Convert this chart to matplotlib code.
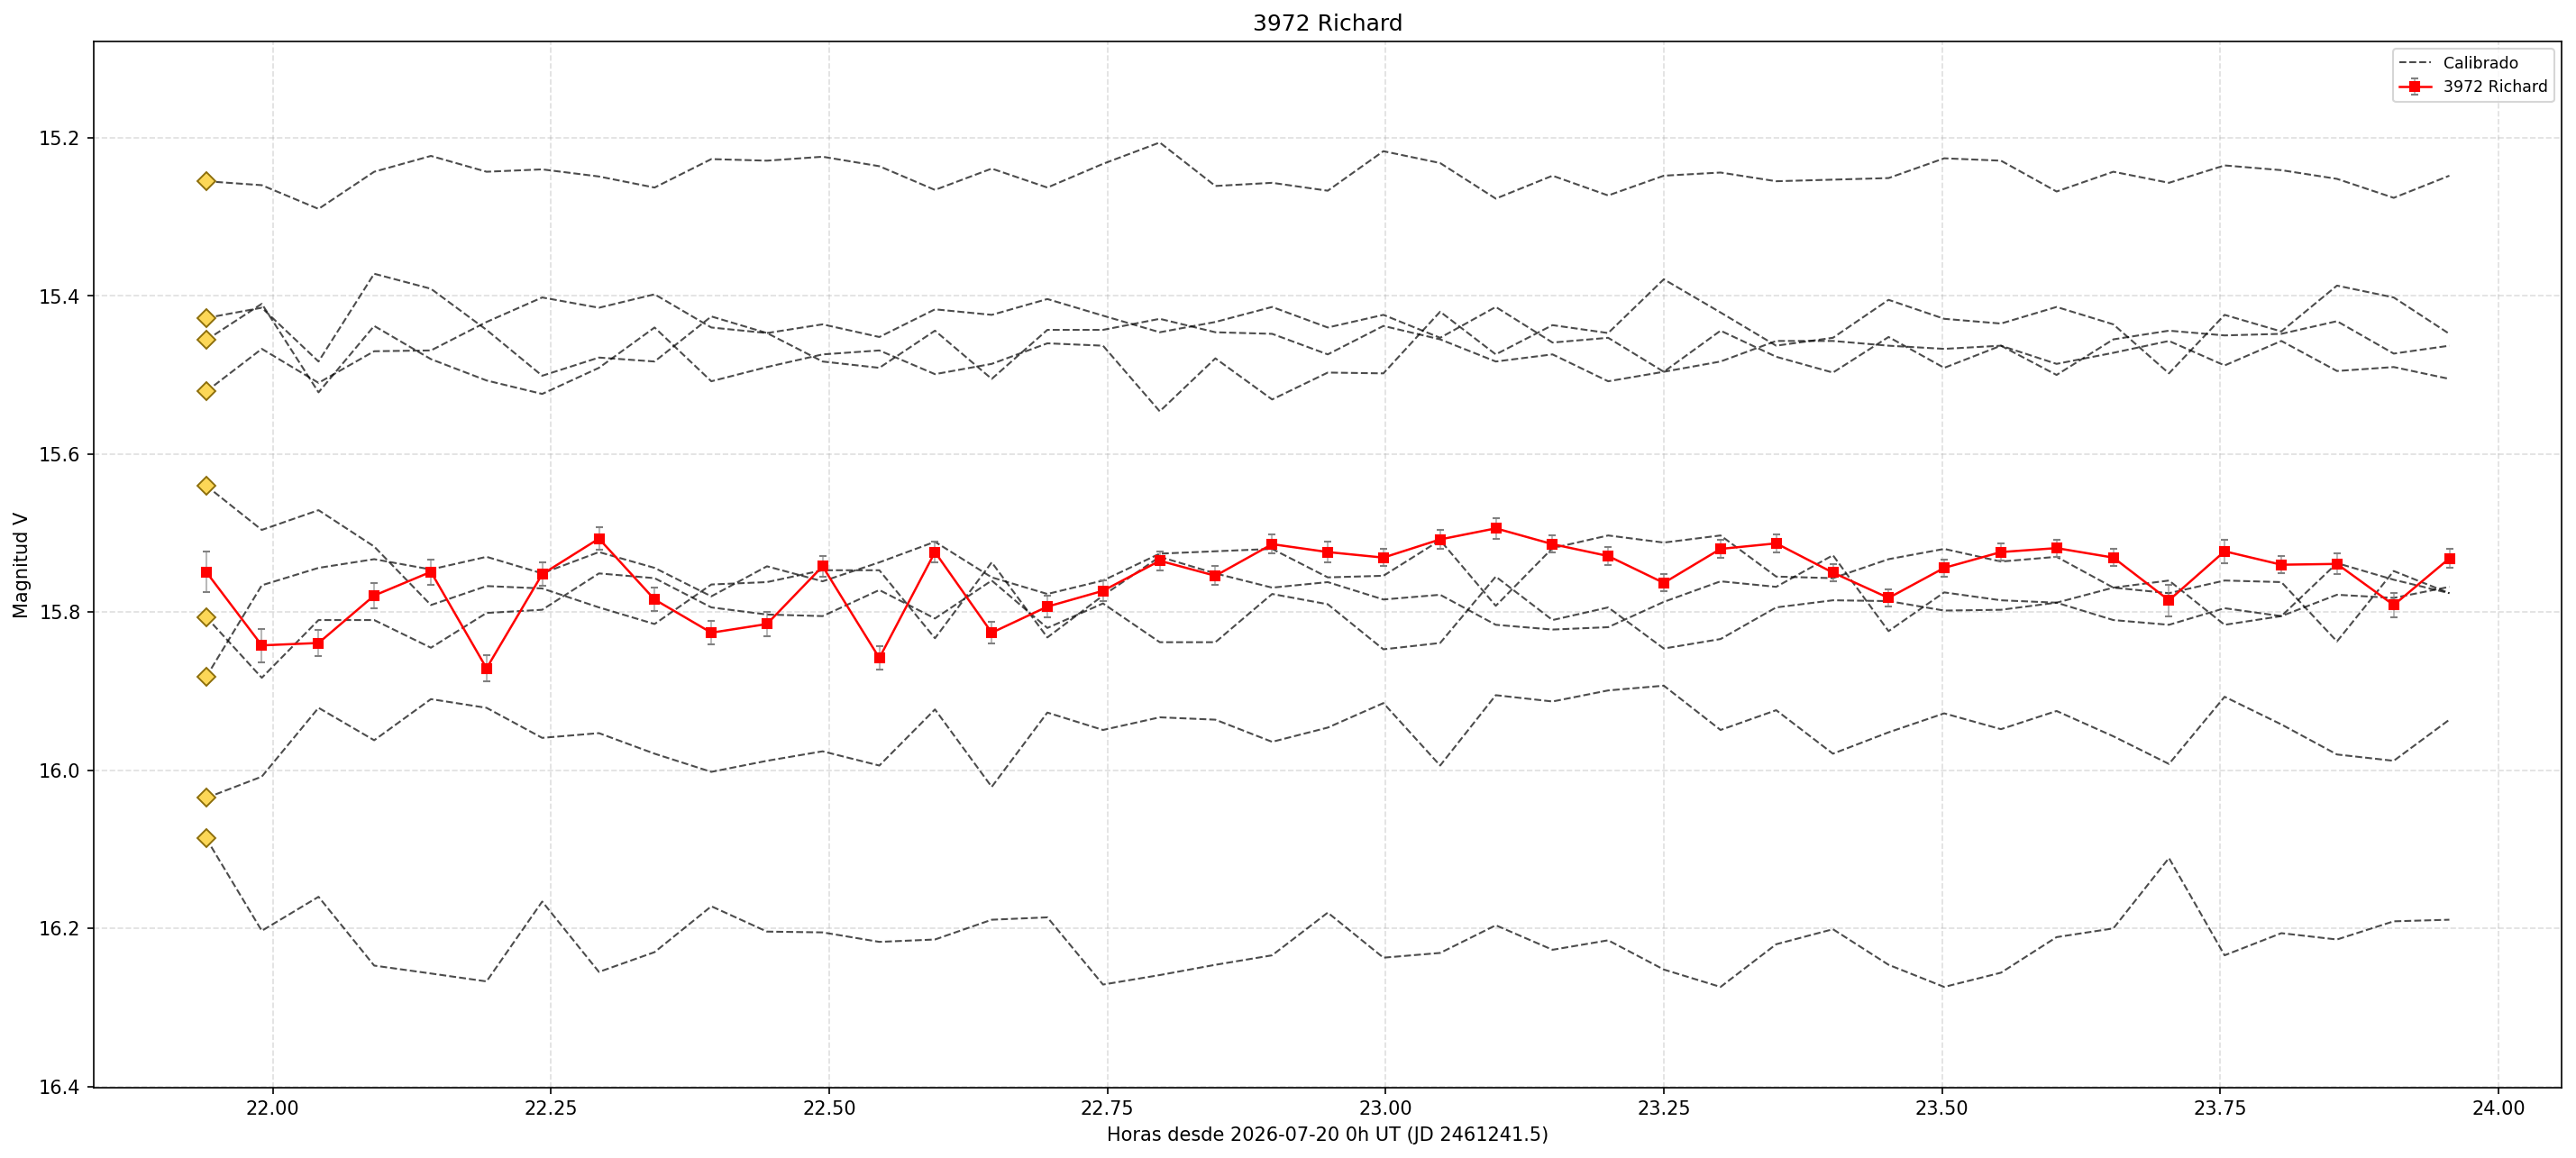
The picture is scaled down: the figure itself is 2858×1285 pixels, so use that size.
import matplotlib
matplotlib.use("agg")
import matplotlib.pyplot as plt

# hours since 2026-07-20 0h UT
hours = [21.940, 21.990, 22.041, 22.091, 22.142, 22.192, 22.242, 22.293, 22.343,
         22.394, 22.444, 22.494, 22.545, 22.595, 22.646, 22.696, 22.746, 22.797,
         22.847, 22.898, 22.948, 22.998, 23.049, 23.099, 23.150, 23.200, 23.250,
         23.301, 23.351, 23.402, 23.452, 23.502, 23.553, 23.603, 23.654, 23.704,
         23.754, 23.805, 23.855, 23.906, 23.956]

# target asteroid
richard_mag = [15.749, 15.842, 15.839, 15.779, 15.749, 15.871, 15.752, 15.707, 15.784,
               15.826, 15.815, 15.742, 15.858, 15.724, 15.826, 15.793, 15.773, 15.735,
               15.754, 15.714, 15.724, 15.731, 15.708, 15.694, 15.714, 15.729, 15.763,
               15.720, 15.713, 15.750, 15.782, 15.744, 15.724, 15.719, 15.731, 15.785,
               15.723, 15.740, 15.739, 15.791, 15.732]
richard_err = [0.026, 0.021, 0.017, 0.016, 0.016, 0.017, 0.015, 0.014, 0.015, 0.015,
               0.015, 0.013, 0.015, 0.013, 0.014, 0.014, 0.013, 0.012, 0.012, 0.012,
               0.013, 0.011, 0.012, 0.013, 0.011, 0.011, 0.011, 0.011, 0.011, 0.011,
               0.011, 0.011, 0.011, 0.011, 0.011, 0.020, 0.015, 0.011, 0.013, 0.015,
               0.012]

# calibrated comparison stars
comp_a = [15.255, 15.260, 15.290, 15.243, 15.223, 15.243, 15.240, 15.249, 15.263,
          15.227, 15.229, 15.224, 15.236, 15.266, 15.239, 15.263, 15.233, 15.206,
          15.261, 15.257, 15.267, 15.217, 15.232, 15.277, 15.248, 15.273, 15.248,
          15.244, 15.255, 15.253, 15.251, 15.226, 15.229, 15.268, 15.243, 15.257,
          15.235, 15.241, 15.252, 15.276, 15.248]
comp_b = [15.428, 15.415, 15.483, 15.372, 15.391, 15.443, 15.501, 15.478, 15.483,
          15.426, 15.447, 15.483, 15.491, 15.444, 15.505, 15.443, 15.443, 15.429,
          15.446, 15.448, 15.474, 15.438, 15.455, 15.483, 15.474, 15.508, 15.496,
          15.483, 15.457, 15.457, 15.463, 15.467, 15.463, 15.486, 15.472, 15.457,
          15.488, 15.457, 15.495, 15.490, 15.505]
comp_c = [15.456, 15.410, 15.522, 15.438, 15.480, 15.507, 15.524, 15.491, 15.440,
          15.508, 15.490, 15.474, 15.469, 15.499, 15.486, 15.460, 15.463, 15.546,
          15.479, 15.531, 15.497, 15.498, 15.420, 15.474, 15.437, 15.447, 15.379,
          15.421, 15.463, 15.453, 15.405, 15.429, 15.435, 15.414, 15.436, 15.498,
          15.424, 15.445, 15.387, 15.402, 15.448]
comp_d = [15.521, 15.467, 15.510, 15.470, 15.469, 15.433, 15.402, 15.415, 15.398,
          15.440, 15.447, 15.436, 15.452, 15.417, 15.424, 15.404, 15.425, 15.446,
          15.433, 15.414, 15.440, 15.424, 15.453, 15.414, 15.459, 15.453, 15.496,
          15.444, 15.477, 15.497, 15.452, 15.491, 15.463, 15.500, 15.455, 15.444,
          15.450, 15.448, 15.432, 15.473, 15.463]
comp_e = [15.640, 15.696, 15.671, 15.717, 15.791, 15.767, 15.770, 15.794, 15.815,
          15.765, 15.762, 15.747, 15.747, 15.833, 15.737, 15.832, 15.779, 15.730,
          15.751, 15.769, 15.762, 15.784, 15.778, 15.816, 15.822, 15.819, 15.787,
          15.761, 15.768, 15.728, 15.824, 15.775, 15.785, 15.788, 15.810, 15.816,
          15.795, 15.805, 15.738, 15.759, 15.776]
comp_f = [15.806, 15.883, 15.810, 15.810, 15.845, 15.801, 15.797, 15.751, 15.757,
          15.794, 15.803, 15.805, 15.772, 15.808, 15.760, 15.820, 15.789, 15.838,
          15.838, 15.777, 15.790, 15.847, 15.839, 15.755, 15.810, 15.794, 15.846,
          15.834, 15.794, 15.785, 15.786, 15.798, 15.797, 15.788, 15.769, 15.760,
          15.816, 15.805, 15.778, 15.782, 15.768]
comp_g = [15.882, 15.766, 15.744, 15.733, 15.746, 15.730, 15.751, 15.724, 15.744,
          15.780, 15.742, 15.761, 15.737, 15.711, 15.756, 15.777, 15.760, 15.726,
          15.723, 15.720, 15.756, 15.754, 15.709, 15.792, 15.719, 15.703, 15.712,
          15.703, 15.755, 15.757, 15.733, 15.720, 15.736, 15.730, 15.769, 15.776,
          15.760, 15.762, 15.837, 15.748, 15.776]
comp_h = [16.035, 16.008, 15.921, 15.962, 15.910, 15.921, 15.959, 15.953, 15.979,
          16.002, 15.988, 15.976, 15.994, 15.923, 16.021, 15.927, 15.949, 15.933,
          15.936, 15.964, 15.946, 15.915, 15.994, 15.905, 15.913, 15.899, 15.893,
          15.949, 15.924, 15.979, 15.952, 15.928, 15.948, 15.925, 15.957, 15.992,
          15.907, 15.942, 15.980, 15.988, 15.936]
comp_i = [16.086, 16.203, 16.160, 16.247, 16.257, 16.267, 16.166, 16.255, 16.230,
          16.172, 16.204, 16.205, 16.217, 16.214, 16.189, 16.186, 16.271, 16.259,
          16.246, 16.234, 16.180, 16.237, 16.231, 16.196, 16.227, 16.215, 16.252,
          16.274, 16.220, 16.201, 16.246, 16.274, 16.256, 16.211, 16.200, 16.111,
          16.234, 16.206, 16.214, 16.191, 16.189]

comp_stars = [comp_a, comp_b, comp_c, comp_d, comp_e, comp_f, comp_g, comp_h, comp_i]


def plot_light_curve(file_name):
    fig = plt.figure(figsize=(2858.2 / 150, 1285.2 / 150), dpi=150)
    ax = fig.add_axes([0.0364, 0.061, 0.958, 0.9032])

    for i, star in enumerate(comp_stars):
        ax.plot(hours, star, '--', color='k', alpha=0.7, lw=1,
                label='Calibrado' if i == 0 else None)
        ax.plot(hours[0], star[0], 'D', ms=7, markerfacecolor='#fcd757',
                markeredgecolor='#8b6d0a', markeredgewidth=0.9, zorder=4)

    ax.errorbar(hours, richard_mag, yerr=richard_err, fmt='-s', color='red',
                lw=1.2, ms=5, ecolor='gray', elinewidth=1, capsize=2,
                alpha=1, label='3972 Richard', zorder=5)
    # fade only the error bars
    for coll in ax.collections:
        coll.set_alpha(0.55)

    ax.set_xlim(21.839, 24.057)
    ax.set_ylim(16.401, 15.078)
    ax.grid(True, linestyle='--', alpha=0.4)
    ax.set_xlabel('Horas desde 2026-07-20 0h UT (JD 2461241.5)')
    ax.set_ylabel('Magnitud V')
    ax.set_title('3972 Richard')
    ax.legend(loc='upper right', fontsize='small')

    fig.savefig(file_name, dpi=150)


if __name__ == '__main__':
    plot_light_curve('out.png')
